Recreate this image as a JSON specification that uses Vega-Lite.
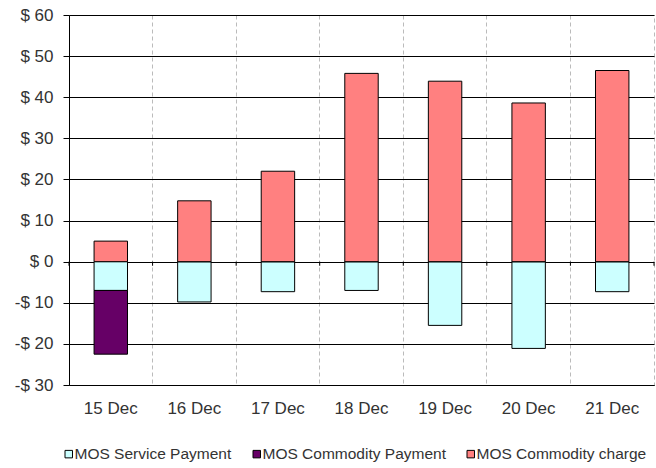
{
  "$schema": "https://vega.github.io/schema/vega-lite/v6.json",
  "width": 585,
  "height": 370,
  "autosize": {"type": "none"},
  "padding": {"left": 69, "top": 15, "right": 2, "bottom": 83},
  "background": "white",
  "config": {
    "font": "Liberation Sans",
    "view": {"stroke": "#bbbbbb", "strokeDash": [4, 3]}
  },
  "data": {
    "values": [
      {"date": "15 Dec", "series": "MOS Service Payment", "ord": 1, "value": -7.0},
      {"date": "15 Dec", "series": "MOS Commodity Payment", "ord": 2, "value": -15.5},
      {"date": "15 Dec", "series": "MOS Commodity charge", "ord": 3, "value": 5.0},
      {"date": "16 Dec", "series": "MOS Service Payment", "ord": 1, "value": -9.8},
      {"date": "16 Dec", "series": "MOS Commodity Payment", "ord": 2, "value": 0},
      {"date": "16 Dec", "series": "MOS Commodity charge", "ord": 3, "value": 14.8},
      {"date": "17 Dec", "series": "MOS Service Payment", "ord": 1, "value": -7.3},
      {"date": "17 Dec", "series": "MOS Commodity Payment", "ord": 2, "value": 0},
      {"date": "17 Dec", "series": "MOS Commodity charge", "ord": 3, "value": 22.0},
      {"date": "18 Dec", "series": "MOS Service Payment", "ord": 1, "value": -7.0},
      {"date": "18 Dec", "series": "MOS Commodity Payment", "ord": 2, "value": 0},
      {"date": "18 Dec", "series": "MOS Commodity charge", "ord": 3, "value": 45.8},
      {"date": "19 Dec", "series": "MOS Service Payment", "ord": 1, "value": -15.5},
      {"date": "19 Dec", "series": "MOS Commodity Payment", "ord": 2, "value": 0},
      {"date": "19 Dec", "series": "MOS Commodity charge", "ord": 3, "value": 43.9},
      {"date": "20 Dec", "series": "MOS Service Payment", "ord": 1, "value": -21.1},
      {"date": "20 Dec", "series": "MOS Commodity Payment", "ord": 2, "value": 0},
      {"date": "20 Dec", "series": "MOS Commodity charge", "ord": 3, "value": 38.6},
      {"date": "21 Dec", "series": "MOS Service Payment", "ord": 1, "value": -7.3},
      {"date": "21 Dec", "series": "MOS Commodity Payment", "ord": 2, "value": 0},
      {"date": "21 Dec", "series": "MOS Commodity charge", "ord": 3, "value": 46.5}
    ]
  },
  "layer": [
    {
      "mark": {"type": "bar", "stroke": "black", "strokeWidth": 1, "width": {"band": 0.4}},
      "encoding": {
        "x": {
          "field": "date", "type": "nominal",
          "sort": ["15 Dec", "16 Dec", "17 Dec", "18 Dec", "19 Dec", "20 Dec", "21 Dec"],
          "scale": {"paddingInner": 0, "paddingOuter": 0},
          "axis": {
            "title": null, "labelAngle": 0, "labelFontSize": 17, "labelColor": "#333",
            "labelBaseline": "alphabetic", "labelPadding": 28,
            "ticks": false, "tickSize": 0,
            "domainColor": "black", "domainWidth": 1,
            "grid": true, "gridColor": "#bbbbbb", "gridDash": [4, 3], "bandPosition": 0
          }
        },
        "y": {
          "field": "value", "type": "quantitative", "stack": "zero",
          "scale": {"domain": [-30, 60], "nice": false, "zero": false},
          "axis": {
            "title": null, "values": [-30, -20, -10, 0, 10, 20, 30, 40, 50, 60],
            "labelExpr": "datum.value < 0 ? '-$ ' + abs(datum.value) : '$ ' + datum.value",
            "labelFontSize": 17, "labelColor": "#333", "labelPadding": 10,
            "tickColor": "black", "tickSize": 6, "tickWidth": 1,
            "domainColor": "black", "domainWidth": 1,
            "grid": true, "gridColor": "black", "gridWidth": 1
          }
        },
        "color": {
          "field": "series", "type": "nominal",
          "scale": {
            "domain": ["MOS Service Payment", "MOS Commodity Payment", "MOS Commodity charge"],
            "range": ["#CCFFFF", "#660066", "#FF8080"]
          },
          "legend": {
            "title": null, "orient": "none", "direction": "horizontal",
            "legendX": -8, "legendY": 431, "padding": 0,
            "symbolType": "square", "symbolSize": 56,
            "symbolStrokeColor": "black", "symbolStrokeWidth": 1,
            "labelFontSize": 15.5, "labelColor": "#333", "labelOffset": -2,
            "labelLimit": 400, "columnPadding": 17
          }
        },
        "order": {"field": "ord", "type": "quantitative"}
      }
    },
    {
      "transform": [{"filter": "datum.ord == 3"}],
      "mark": {"type": "rule", "color": "black", "strokeWidth": 1},
      "encoding": {
        "x": {"field": "date", "type": "nominal", "bandPosition": 0,
              "sort": ["15 Dec", "16 Dec", "17 Dec", "18 Dec", "19 Dec", "20 Dec", "21 Dec"]},
        "y": {"datum": 0},
        "y2": {"datum": -1}
      }
    },
    {
      "transform": [{"filter": "datum.ord == 3 && datum.date == '21 Dec'"}],
      "mark": {"type": "rule", "color": "black", "strokeWidth": 1},
      "encoding": {
        "x": {"field": "date", "type": "nominal", "bandPosition": 1,
              "sort": ["15 Dec", "16 Dec", "17 Dec", "18 Dec", "19 Dec", "20 Dec", "21 Dec"]},
        "y": {"datum": 0},
        "y2": {"datum": -1}
      }
    }
  ]
}
